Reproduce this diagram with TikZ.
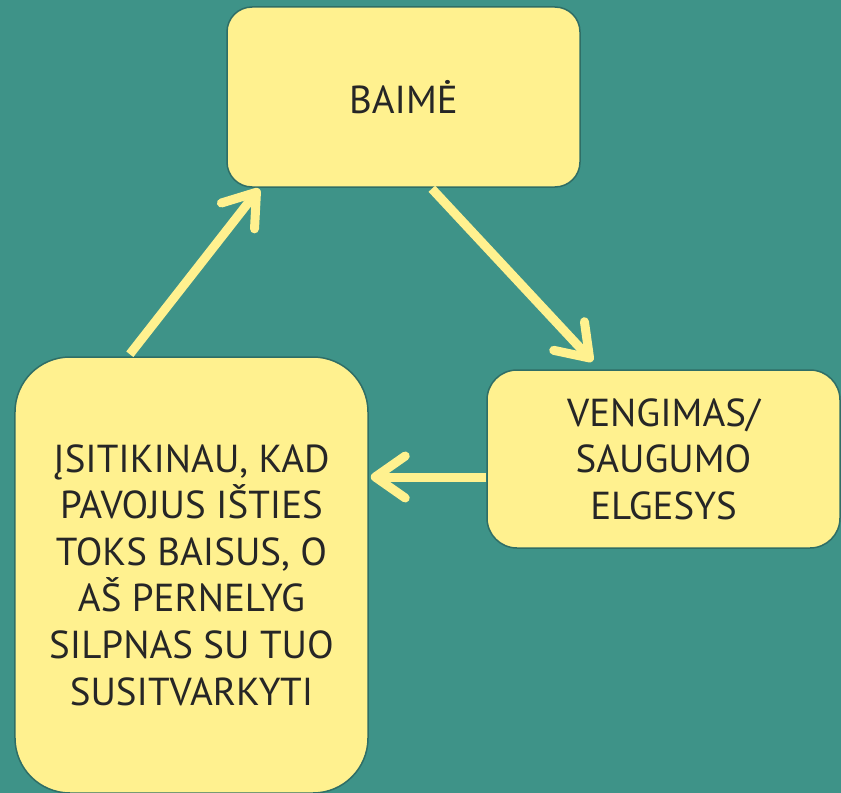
\documentclass[tikz,border=0pt]{standalone}
\usepackage{fontspec}
\setmainfont{PT Sans}
\usetikzlibrary{arrows.meta,calc}
\definecolor{bgteal}{HTML}{3E9388}
\definecolor{boxfill}{HTML}{FFF18F}
\definecolor{boxline}{HTML}{2F6E66}
\definecolor{txt}{HTML}{262626}
\tikzset{
  cbox/.style={draw=boxline, line width=1.5bp, fill=boxfill, text=txt, align=center,
    inner sep=0pt, font=\fontsize{39bp}{46.6bp}\selectfont},
  flow/.style={draw=boxfill, line width=9bp,
    -{Straight Barb[length=30bp, width=42bp, line cap=round, line join=round]}}
}
\begin{document}
\begin{tikzpicture}[x=1bp,y=-1bp]
\fill[bgteal] (0,0) rectangle (841,793);
\useasboundingbox (0,0) rectangle (841,793);
\node[cbox, rounded corners=25bp, minimum width=353bp, minimum height=180bp] (baime) at (403.5,97) {BAIMĖ};
\node[cbox, rounded corners=30bp, minimum width=353bp, minimum height=178bp] (veng) at (663.5,459) {VENGIMAS/\\SAUGUMO\\ELGESYS};
\node[cbox, rounded corners=55bp, minimum width=353bp, minimum height=436bp] (isit) at (191.5,575) {ĮSITIKINAU, KAD\\PAVOJUS IŠTIES\\TOKS BAISUS, O\\AŠ PERNELYG\\SILPNAS SU TUO\\SUSITVARKYTI};
\coordinate (a1s) at ($(baime.south west)!0.58!(baime.south east)+(0,1)$);
\coordinate (a1e) at ($(veng.north west)!0.30!(veng.north east)+(0,-8)$);
\coordinate (a2s) at ($(veng.west)+(0,18)$);
\coordinate (a2e) at ($(isit.east)+(2,-100)$);
\coordinate (a3s) at ($(isit.north west)!0.326!(isit.north east)+(0,-2)$);
\coordinate (a3e) at ($(baime.south west)!0.093!(baime.south east)+(0,1)$);
\draw[flow] (a1s) -- (a1e);
\draw[flow] (a2s) -- (a2s -| a2e);
\draw[flow] (a3s) -- (a3e);
\end{tikzpicture}
\end{document}
